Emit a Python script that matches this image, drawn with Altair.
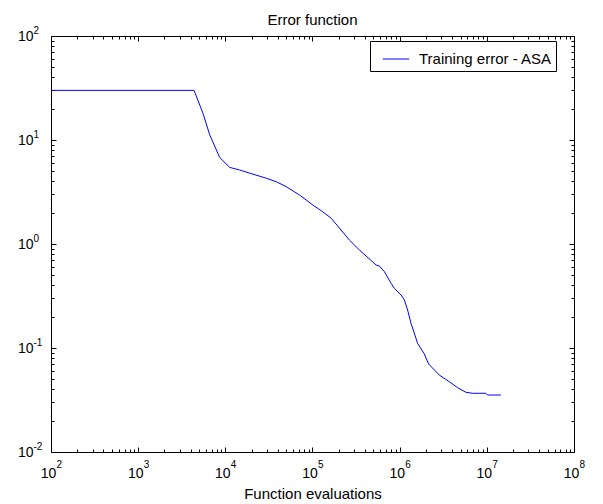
import altair as alt
import pandas as pd

# ---- data ----
evals = [100, 4375, 5546, 6622, 8610, 11220, 14590, 19010, 29510, 38370, 50000,
         70960, 100900, 131200, 163700, 265500, 345100, 537000, 584800, 668300,
         796200, 868900, 1.038e6, 1.132e6, 1.233e6, 1.349e6, 1.607e6, 1.919e6,
         2.148e6, 2.844e6, 3.707e6, 4.613e6, 5.754e6, 6.855e6, 9.75e6, 1.019e7, 1.449e7]
error = [30, 30, 18, 11.2, 6.8, 5.45, 5.15, 4.8, 4.29, 3.97, 3.56,
         2.96, 2.37, 2.04, 1.77, 1.09, 0.875, 0.628, 0.614, 0.542,
         0.419, 0.375, 0.323, 0.29, 0.232, 0.173, 0.111, 0.0875,
         0.0702, 0.055, 0.0474, 0.0416, 0.0375, 0.0367, 0.0367, 0.0353, 0.0353]
series_name = "Training error - ASA"

x_major = [1e2, 1e3, 1e4, 1e5, 1e6, 1e7, 1e8]
y_major = [1e-2, 1e-1, 1e0, 1e1, 1e2]
x_minor = [k * 10 ** d for d in range(2, 8) for k in range(2, 10)]
y_minor = [k * 10.0 ** d for d in range(-2, 2) for k in range(2, 10)]

df = pd.DataFrame({"evals": evals, "error": error, "series": [series_name] * len(evals)})

FONT = "Liberation Sans"
xs = alt.Scale(type="log", domain=[1e2, 1e8])
ys = alt.Scale(type="log", domain=[1e-2, 1e2])

EXP = "'' + round(log(datum.value) / LN10)"


def tick_axis(orient, values, size):
    return alt.Axis(orient=orient, values=values, tickSize=size, offset=-size,
                    labels=False, domain=False, grid=False, title=None,
                    tickColor="black", tickWidth=1)


def frame_axis(orient, values):
    return alt.Axis(orient=orient, values=values, ticks=False, labels=False,
                    domain=True, domainColor="black", domainWidth=1,
                    grid=False, title=None)


def layer(xaxis, yaxis, visible=False, xtitle=None):
    enc = dict(
        x=alt.X("evals:Q", scale=xs, axis=xaxis, title=xtitle),
        y=alt.Y("error:Q", scale=ys, axis=yaxis, title=None),
    )
    if visible:
        enc["color"] = alt.Color(
            "series:N",
            scale=alt.Scale(domain=[series_name], range=["#0000ff"]),
            legend=alt.Legend(orient="none", legendX=319, legendY=5, title=None,
                              strokeColor="black", fillColor="white", padding=4,
                              symbolType="stroke", symbolSize=700, symbolStrokeWidth=1,
                              symbolOffset=8, labelFont=FONT, labelFontSize=15,
                              labelColor="black", labelOffset=9, cornerRadius=0),
        )
        return alt.Chart(df).mark_line(strokeWidth=1).encode(**enc)
    return alt.Chart(df).mark_line(strokeWidth=1, opacity=0).encode(**enc)


# labels "10" + bottom/left frame lines
l1 = layer(
    alt.Axis(orient="bottom", values=x_major, ticks=False, domain=True,
             domainColor="black", grid=False,
             labelExpr="'10'", labelFont=FONT, labelFontSize=14, labelColor="black",
             labelPadding=14, labelOffset=-3, labelFlush=False, labelOverlap=False,
             titleFont=FONT, titleFontSize=15, titleFontWeight="normal",
             titleColor="black", titlePadding=6),
    alt.Axis(orient="left", values=y_major, ticks=False, domain=True,
             domainColor="black", grid=False,
             labelExpr="'10'", labelFont=FONT, labelFontSize=14, labelColor="black",
             labelPadding=18, labelAlign="right", labelBaseline="middle",
             labelFlush=False, labelOverlap=False),
    visible=True, xtitle="Function evaluations")

# exponents
l2 = layer(
    alt.Axis(orient="bottom", values=x_major, ticks=False, domain=False, grid=False,
             labelExpr=EXP, labelFont=FONT, labelFontSize=10, labelColor="black",
             labelPadding=7, labelOffset=5, labelAlign="left",
             labelFlush=False, labelOverlap=False, title=None),
    alt.Axis(orient="left", values=y_major, ticks=False, domain=False, grid=False,
             labelExpr=EXP, labelFont=FONT, labelFontSize=10, labelColor="black",
             labelPadding=18, labelAlign="left", labelBaseline="middle", labelOffset=-6,
             labelFlush=False, labelOverlap=False, title=None))

l3 = layer(tick_axis("bottom", x_major, 5), tick_axis("left", y_major, 5))
l4 = layer(tick_axis("bottom", x_minor, 3), tick_axis("left", y_minor, 3))
l5 = layer(tick_axis("top", x_major, 5), tick_axis("right", y_major, 5))
l6 = layer(tick_axis("top", x_minor, 3), tick_axis("right", y_minor, 3))
l7 = layer(frame_axis("top", x_major), frame_axis("right", y_major))

chart = (
    alt.layer(l1, l2, l3, l4, l5, l6, l7)
    .resolve_axis(x="independent", y="independent")
    .properties(
        width=523, height=416,
        title=alt.TitleParams("Error function", font=FONT, fontSize=15,
                              fontWeight="normal", color="black", anchor="middle",
                              offset=10, dy=13),
        autosize=alt.AutoSizeParams(type="none"),
        padding={"left": 51, "top": 36, "right": 29, "bottom": 52},
    )
    .configure_view(stroke=None)
    .configure(background="white")
)

chart.save("out.html", embed_options={"renderer": "svg", "actions": False})
